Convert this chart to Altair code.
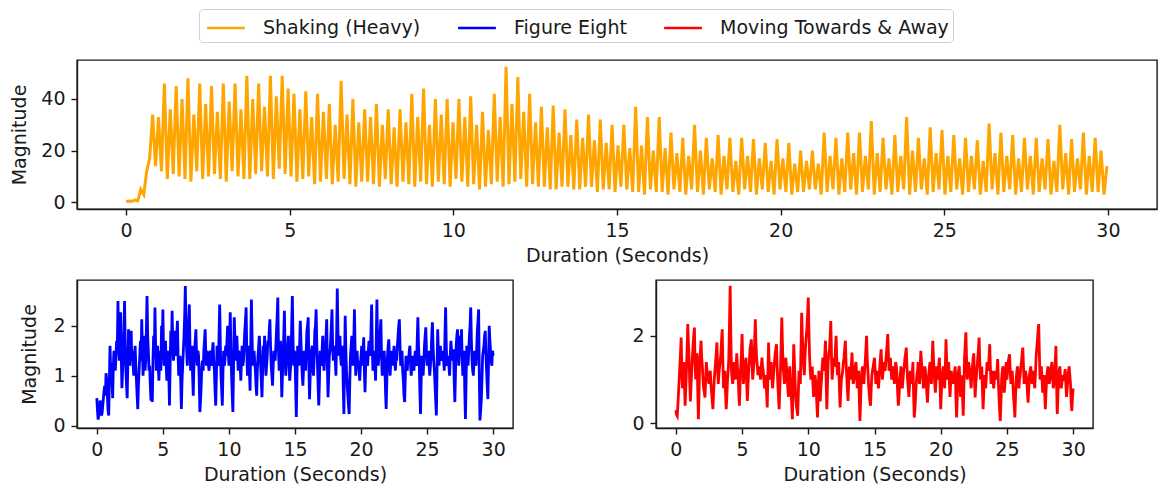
import altair as alt
import pandas as pd

# Series names and their line colours
SERIES = ["Shaking (Heavy)", "Figure Eight", "Moving Towards & Away"]
COLORS = ["orange", "blue", "red"]

# Sampling step (seconds) of each recording
shaking_step = 0.09
figure_eight_step = 0.05
towards_away_step = 0.05

# Magnitude readings, Shaking (Heavy)
shaking = [
    0.3, 0.5, 0.4, 0.9, 0.6, 5.0, 3.0, 12.0, 17.0,
    34, 14, 33, 12, 46, 9, 36, 11, 45, 10, 40, 9, 48, 8, 34, 12,
    46, 9, 38, 10, 45, 11, 35, 9, 46, 8, 39, 12, 46, 10, 36, 9,
    49, 9, 40, 11, 46, 12, 37, 10, 49, 9, 41, 13, 49, 11, 44, 10,
    42, 8, 36, 9, 43, 10, 33, 7, 42, 8, 35, 9, 38, 7, 30, 8,
    47, 9, 34, 7, 40, 6, 31, 8, 36, 8, 33, 7, 38, 6, 30, 9,
    36, 7, 29, 6, 36, 8, 31, 7, 42, 6, 33, 8, 44, 7, 30, 6,
    40, 8, 34, 7, 40, 6, 31, 9, 40, 8, 33, 6, 41, 7, 30, 5,
    35, 6, 28, 7, 42, 8, 33, 6, 52.5, 7, 38, 8, 48.5, 9, 35, 6,
    42, 7, 31, 6, 37, 6, 29, 5, 37.5, 5, 27, 6, 36, 6, 26, 5,
    32, 5, 25, 6, 34, 6, 24, 4, 32, 5, 23, 5, 30, 4, 22, 6,
    30, 5, 21, 4, 37, 4, 22, 3, 33, 5, 20, 4, 33, 4, 21, 3,
    27, 5, 19, 4, 25, 3, 18, 5, 30, 4, 20, 3, 25, 5, 17, 4,
    26, 3, 18, 5, 25, 4, 16, 3, 25, 5, 18, 4, 24.5, 3, 17, 5,
    23, 4, 16, 3, 24.5, 5, 17, 4, 23, 3, 15, 4, 20, 4, 16, 5,
    20, 5, 15, 3, 27, 4, 18, 5, 25, 3, 17, 4, 27, 5, 19, 3,
    27, 4, 18, 5, 31.5, 3, 19, 4, 25, 5, 17, 3, 26, 4, 18, 5,
    33, 3, 20, 4, 25, 5, 17, 3, 29, 4, 19, 5, 28, 3, 18, 4,
    26, 5, 17, 3, 25, 4, 18, 5, 24, 3, 16, 4, 30.5, 5, 19, 3,
    27, 4, 18, 5, 26, 3, 17, 4, 25, 5, 18, 3, 25, 4, 17, 5,
    24.5, 3, 16, 4, 30, 5, 19, 3, 24.5, 4, 17, 5, 27, 3, 18, 4,
    25, 4, 20, 3, 14,
]

# Magnitude readings, Figure Eight (one row per second)
figure_eight = [
    0.55, 0.3, 0.12, 0.2, 0.3, 0.5, 0.45, 0.2, 0.25, 0.4, 0.55, 0.7, 0.8, 0.6, 1.05, 0.9, 0.6, 0.3, 0.2, 0.9,
    1.6, 1.1, 1.25, 0.9, 0.55, 1.2, 1.5, 1.3, 1.1, 1.4, 1.7, 1.5, 2.5, 1.6, 1.3, 1.9, 2.27, 1.4, 0.75, 1.1,
    1.4, 1.9, 2.5, 1.6, 1.1, 0.8, 0.55, 1.3, 1.93, 1.5, 1.2, 1.6, 1.9, 1.3, 1.5, 1.2, 1.0, 1.4, 1.6, 1.2,
    0.9, 0.6, 0.33, 0.8, 1.1, 1.4, 1.7, 1.3, 2.13, 1.5, 1.0, 1.4, 1.8, 1.1, 1.3, 1.9, 2.6, 1.8, 1.5, 1.1,
    1.2, 0.8, 0.5, 1.0, 0.47, 1.3, 1.8, 1.4, 2.37, 1.6, 1.1, 1.3, 1.6, 1.2, 0.9, 1.3, 1.5, 1.1, 2.0, 1.6,
    2.33, 1.5, 1.2, 1.4, 1.7, 1.2, 0.9, 1.3, 1.5, 1.0, 0.4, 1.2, 1.9, 1.5, 2.3, 1.6, 1.3, 1.5, 1.9, 1.4,
    1.5, 1.8, 2.1, 1.4, 1.0, 1.3, 1.4, 0.9, 0.33, 0.9, 1.2, 1.5, 1.8, 2.2, 2.8, 1.9, 1.5, 1.2, 1.9, 2.1,
    2.43, 1.6, 1.1, 1.3, 1.6, 1.0, 0.6, 1.2, 1.5, 1.7, 1.93, 1.4, 1.2, 1.5, 1.4, 0.9, 0.27, 0.5, 0.8, 1.2,
    1.3, 1.1, 1.5, 1.7, 1.93, 1.4, 1.2, 1.5, 1.4, 1.2, 1.1, 1.4, 1.5, 1.2, 1.3, 1.5, 1.67, 1.3, 1.1, 0.7,
    0.4, 1.0, 1.6, 1.3, 1.2, 1.8, 2.43, 1.6, 1.0, 0.7, 0.4, 1.1, 1.5, 1.2, 1.3, 1.6, 1.4, 1.7, 2.0, 1.5,
    1.2, 1.7, 2.27, 1.5, 1.0, 0.6, 0.27, 1.2, 2.17, 1.8, 1.5, 1.3, 1.8, 1.4, 1.1, 1.5, 1.4, 1.2, 0.9, 1.3,
    1.6, 1.2, 1.3, 1.6, 1.9, 2.1, 2.37, 1.5, 1.0, 1.3, 1.6, 1.1, 0.7, 1.6, 2.53, 1.8, 1.2, 1.4, 1.5, 1.3,
    1.1, 0.8, 0.6, 1.1, 1.4, 1.6, 1.8, 1.5, 1.2, 0.9, 0.57, 1.1, 1.6, 1.4, 1.8, 1.3, 1.0, 1.2, 1.4, 1.7,
    1.6, 1.9, 2.13, 1.6, 1.2, 1.0, 0.8, 1.2, 1.5, 1.4, 1.3, 1.6, 1.9, 2.2, 2.57, 1.5, 1.1, 1.4, 1.7, 1.2,
    0.57, 1.0, 1.4, 1.8, 2.3, 1.5, 1.0, 1.3, 1.5, 1.6, 1.8, 1.2, 0.9, 1.1, 1.4, 2.0, 2.6, 1.7, 1.2, 1.5,
    1.4, 0.8, 0.17, 1.0, 1.6, 1.4, 1.2, 1.6, 2.1, 1.7, 1.3, 1.0, 0.8, 1.2, 1.5, 1.3, 1.1, 1.5, 1.9, 2.0,
    2.17, 1.2, 0.53, 1.0, 1.3, 1.5, 1.6, 1.2, 1.0, 1.4, 1.9, 2.0, 2.33, 1.6, 1.2, 0.8, 0.4, 0.9, 1.5, 1.3,
    1.2, 1.5, 1.8, 1.3, 1.1, 1.4, 1.5, 1.8, 2.13, 1.2, 0.57, 1.0, 1.4, 1.5, 1.7, 2.0, 2.33, 1.6, 1.3, 1.5,
    1.6, 1.3, 1.0, 1.8, 2.75, 1.9, 1.4, 1.6, 1.8, 1.4, 1.2, 1.5, 1.6, 0.8, 0.23, 1.3, 2.2, 1.5, 1.1, 0.8,
    0.6, 0.4, 0.23, 0.9, 1.4, 1.6, 1.8, 1.4, 1.2, 1.7, 2.33, 1.5, 1.0, 1.3, 1.5, 1.2, 1.3, 1.1, 0.9, 1.2,
    1.4, 1.6, 1.2, 1.5, 1.77, 1.1, 0.67, 1.2, 1.5, 1.3, 1.2, 1.5, 1.7, 1.5, 1.4, 1.9, 2.43, 1.6, 1.1, 1.3,
    1.5, 1.2, 0.9, 1.7, 2.53, 1.6, 1.2, 1.4, 1.6, 1.9, 2.13, 1.4, 1.0, 1.2, 1.4, 1.5, 1.2, 0.7, 0.33, 0.9,
    1.4, 1.6, 1.73, 1.3, 1.0, 1.3, 1.5, 1.4, 1.2, 1.4, 1.6, 1.3, 1.1, 1.4, 1.3, 1.6, 1.8, 2.0, 2.13, 1.6,
    1.2, 1.3, 1.5, 1.1, 0.9, 0.6, 0.47, 1.0, 1.4, 1.2, 1.1, 1.4, 1.3, 1.5, 1.6, 1.2, 1.0, 1.3, 1.4, 1.2,
    1.1, 1.3, 1.5, 1.3, 1.2, 1.7, 2.17, 1.6, 1.3, 0.7, 0.23, 0.9, 1.4, 1.2, 1.0, 1.3, 1.6, 1.8, 1.97, 1.5,
    1.2, 1.4, 1.5, 1.2, 1.0, 1.2, 1.4, 1.8, 2.07, 1.6, 1.3, 1.1, 0.8, 0.5, 0.2, 1.1, 1.93, 1.5, 1.2, 1.4,
    1.6, 1.4, 1.3, 1.4, 1.5, 1.3, 1.1, 1.8, 2.37, 1.6, 1.2, 1.3, 1.4, 1.2, 1.0, 1.4, 1.7, 1.5, 1.3, 1.5,
    1.5, 0.9, 0.47, 1.1, 1.6, 1.8, 1.93, 1.5, 1.2, 1.5, 1.8, 1.6, 1.93, 1.4, 1.0, 1.3, 1.5, 0.7, 0.13, 0.9,
    1.6, 1.4, 1.2, 1.5, 1.8, 2.0, 2.37, 1.7, 1.3, 1.1, 1.0, 1.3, 1.5, 1.3, 1.2, 1.5, 1.9, 2.1, 2.33, 1.0,
    0.1, 0.3, 0.5, 0.9, 1.4, 1.5, 1.6, 1.8, 1.9, 1.4, 1.1, 0.8, 0.53, 1.3, 2.0, 1.7, 1.5, 1.3, 1.2, 1.5,
    1.4,
]

# Magnitude readings, Moving Towards & Away (one row per second)
towards_away = [
    0.3, 0.2, 0.17, 0.4, 0.7, 1.0, 1.3, 1.6, 1.96, 1.2, 0.8, 1.1, 1.4, 0.9, 0.4, 0.8, 1.2, 1.7, 2.27, 1.8,
    1.5, 0.9, 0.5, 0.9, 1.2, 1.5, 1.8, 2.0, 2.19, 1.4, 1.0, 1.3, 1.6, 0.8, 0.09, 0.7, 1.4, 1.6, 1.89, 1.5,
    1.3, 1.0, 0.8, 0.7, 0.59, 1.0, 1.4, 1.2, 1.1, 1.0, 0.9, 1.1, 1.2, 0.9, 0.7, 0.5, 0.32, 0.7, 1.0, 1.2,
    1.4, 1.6, 1.85, 1.3, 0.9, 1.1, 1.3, 1.4, 1.6, 1.9, 2.15, 1.4, 0.8, 1.0, 1.2, 0.7, 0.32, 0.6, 1.0, 1.2,
    1.5, 2.3, 3.15, 2.0, 1.2, 1.0, 0.9, 1.2, 1.4, 1.2, 1.0, 1.3, 1.6, 1.3, 1.1, 0.7, 0.4, 0.9, 1.3, 1.6,
    2.04, 1.4, 0.9, 1.1, 1.3, 1.4, 1.5, 0.9, 0.51, 0.9, 1.2, 1.4, 1.7, 1.8, 1.92, 1.4, 1.0, 1.2, 1.4, 1.9,
    2.38, 1.8, 1.5, 1.3, 1.1, 1.2, 1.3, 1.1, 1.0, 1.3, 1.5, 1.3, 1.2, 1.0, 0.8, 1.0, 1.1, 0.7, 0.36, 1.1,
    1.85, 1.3, 1.0, 1.2, 1.4, 1.1, 0.8, 1.0, 1.2, 1.4, 1.6, 1.7, 1.81, 1.3, 0.9, 0.6, 0.32, 0.8, 1.2, 1.8,
    2.42, 1.8, 1.3, 1.1, 0.9, 1.2, 1.5, 1.3, 1.1, 0.8, 0.6, 1.0, 1.3, 1.0, 0.8, 0.4, 0.09, 0.9, 1.81, 1.4,
    1.0, 0.6, 0.4, 0.3, 0.17, 0.7, 1.2, 1.0, 0.9, 1.7, 2.53, 2.0, 1.6, 1.3, 1.1, 1.5, 1.8, 2.0, 2.2, 2.5,
    2.88, 2.1, 1.5, 1.2, 1.0, 1.1, 1.3, 0.9, 0.6, 0.9, 1.1, 1.0, 0.8, 0.4, 0.13, 0.7, 1.2, 0.9, 0.5, 0.8,
    1.0, 1.3, 1.5, 1.4, 1.2, 1.6, 1.89, 1.0, 0.32, 0.9, 1.4, 1.6, 1.7, 2.0, 2.34, 1.6, 1.0, 1.2, 1.5, 1.4,
    1.3, 1.7, 2.0, 1.5, 1.1, 1.2, 1.4, 0.8, 0.36, 0.7, 1.0, 1.1, 1.2, 1.4, 1.5, 1.7, 1.89, 1.4, 1.1, 0.8,
    0.51, 0.9, 1.3, 1.1, 1.0, 1.3, 1.62, 1.2, 0.9, 1.0, 1.1, 1.3, 1.4, 1.1, 0.8, 1.0, 1.2, 0.6, 0.05, 0.5,
    1.0, 1.2, 1.3, 1.1, 0.9, 1.2, 1.4, 1.7, 2.0, 1.5, 1.2, 0.9, 0.7, 0.5, 0.4, 0.8, 1.1, 1.2, 1.3, 1.4,
    1.5, 1.2, 0.9, 1.0, 1.2, 1.0, 0.8, 1.0, 1.3, 1.5, 1.69, 1.3, 1.0, 1.2, 1.4, 1.3, 1.2, 1.4, 1.6, 1.8,
    2.04, 1.6, 1.2, 1.3, 1.5, 1.2, 1.0, 1.1, 1.3, 1.1, 0.9, 1.2, 1.4, 1.3, 1.1, 0.7, 0.4, 0.6, 0.9, 1.1,
    1.3, 1.0, 0.8, 1.0, 1.2, 1.3, 1.5, 1.6, 1.73, 1.3, 1.0, 0.8, 0.6, 0.9, 1.2, 1.0, 0.9, 1.1, 1.4, 0.7,
    0.13, 0.3, 0.6, 0.9, 1.1, 1.2, 1.4, 1.1, 0.9, 1.3, 1.66, 1.4, 1.2, 1.0, 0.8, 1.0, 1.3, 1.2, 1.0, 0.7,
    0.47, 0.8, 1.1, 1.3, 1.4, 1.1, 0.9, 1.4, 1.89, 1.5, 1.2, 0.9, 0.7, 1.0, 1.3, 1.1, 1.0, 1.3, 1.5, 0.9,
    0.32, 0.7, 1.1, 1.2, 1.3, 1.0, 0.8, 1.3, 1.92, 1.4, 1.0, 1.2, 1.4, 1.0, 0.6, 0.9, 1.2, 1.0, 0.9, 1.0,
    1.0, 1.2, 1.3, 0.6, 0.13, 0.6, 1.1, 1.2, 1.31, 0.9, 0.6, 0.9, 1.1, 0.6, 0.17, 0.8, 1.5, 1.8, 2.08, 1.5,
    1.0, 1.2, 1.4, 1.3, 1.2, 1.0, 0.8, 1.1, 1.3, 1.5, 1.6, 1.0, 0.59, 0.9, 1.1, 1.3, 1.5, 1.7, 1.96, 1.4,
    1.0, 1.2, 1.3, 0.8, 0.32, 0.7, 1.1, 0.9, 0.8, 1.1, 1.4, 1.3, 1.2, 1.5, 1.81, 1.3, 0.9, 1.0, 1.2, 1.0,
    0.8, 1.0, 1.2, 1.1, 1.0, 1.2, 1.47, 1.0, 0.6, 0.3, 0.05, 0.5, 1.0, 1.2, 1.3, 1.0, 0.7, 0.9, 1.2, 1.4,
    1.0, 1.2, 1.4, 1.5, 1.58, 1.2, 0.9, 1.0, 1.2, 0.9, 0.6, 0.4, 0.13, 0.6, 1.0, 1.2, 1.3, 1.0, 0.8, 1.0,
    1.1, 1.3, 1.4, 1.6, 1.73, 1.3, 0.9, 1.0, 1.2, 1.1, 1.0, 0.7, 0.47, 0.8, 1.1, 1.2, 1.3, 1.1, 0.9, 1.0,
    1.2, 1.0, 0.8, 1.1, 1.5, 1.7, 1.9, 2.1, 2.27, 1.6, 1.0, 1.1, 1.3, 1.0, 0.7, 0.9, 1.1, 0.7, 0.32, 0.7,
    1.0, 1.2, 1.3, 1.1, 0.9, 1.0, 1.2, 1.3, 1.4, 1.1, 0.8, 0.9, 1.1, 1.4, 1.77, 0.9, 0.21, 0.6, 1.0, 1.2,
    1.3, 1.0, 0.8, 0.9, 1.1, 1.0, 1.0, 1.1, 1.24, 0.9, 0.6, 0.8, 1.0, 1.2, 1.3, 1.1, 0.9, 0.5, 0.28, 0.6,
    0.8,
]

# Axis ticks
x_ticks = [0, 5, 10, 15, 20, 25, 30]
shaking_y_ticks = [0, 20, 40]
figure_eight_y_ticks = [0, 1, 2]
towards_away_y_ticks = [0, 2]

FONT = "DejaVu Sans"
FS = 19
INK = "#1a1a1a"


def frame(values, step, name):
    return pd.DataFrame({
        "t": [round(i * step, 3) for i in range(len(values))],
        "m": values,
        "series": name,
    })


# Shared colour scale; its legend sits in a rounded box above the top panel
color = alt.Color(
    "series:N",
    scale=alt.Scale(domain=SERIES, range=COLORS),
    legend=alt.Legend(
        title=None,
        orient="none",
        direction="horizontal",
        legendX=122,
        legendY=-51,
        symbolType="M-1.4,0H1.4",
        symbolStrokeWidth=2.7,
        symbolSize=729,
        symbolOffset=8,
        labelFontSize=FS,
        labelFont=FONT,
        labelColor=INK,
        labelLimit=600,
        labelOffset=22,
        columnPadding=31,
        padding=4,
        strokeColor="#d0d0d0",
        fillColor="white",
        cornerRadius=4,
    ),
)


def panel(df, width, height, y_domain, y_ticks, y_title, title_pad, stroke):
    return alt.Chart(df).mark_line(strokeWidth=stroke, clip=True).encode(
        x=alt.X(
            "t:Q",
            scale=alt.Scale(domain=[-1.5, 31.5], nice=False, zero=False),
            axis=alt.Axis(values=x_ticks, title="Duration (Seconds)", format="d",
                          titlePadding=6),
        ),
        y=alt.Y(
            "m:Q",
            scale=alt.Scale(domain=y_domain, nice=False, zero=False),
            axis=alt.Axis(values=y_ticks, title=y_title, format="d",
                          titlePadding=title_pad),
        ),
        color=color,
    ).properties(width=width, height=height)


top = panel(frame(shaking, shaking_step, SERIES[0]), 1080, 149,
            [-2.6, 55.1], shaking_y_ticks, "Magnitude", 11, 3.0)
left = panel(frame(figure_eight, figure_eight_step, SERIES[1]), 436, 148,
             [-0.05, 2.92], figure_eight_y_ticks, "Magnitude", 13, 2.8)
right = panel(frame(towards_away, towards_away_step, SERIES[2]), 437, 148,
              [-0.11, 3.28], towards_away_y_ticks, None, 8, 2.8)

chart = alt.vconcat(
    top,
    alt.hconcat(left, right, spacing=117),
    spacing=13,
).properties(
    padding={"left": 10, "top": 8, "right": 0, "bottom": 0},
).configure(
    font=FONT,
).configure_view(
    stroke=INK,
    strokeWidth=1.4,
).configure_axis(
    domainColor=INK,
    domainWidth=1.4,
    tickColor=INK,
    tickWidth=1.4,
    tickSize=6,
    labelPadding=6,
    labelFontSize=FS,
    labelColor=INK,
    labelFont=FONT,
    titleFont=FONT,
    titleFontSize=FS,
    titleFontWeight="normal",
    titleColor=INK,
    grid=False,
)

chart.save("out.html", embed_options={"renderer": "svg", "actions": False})
